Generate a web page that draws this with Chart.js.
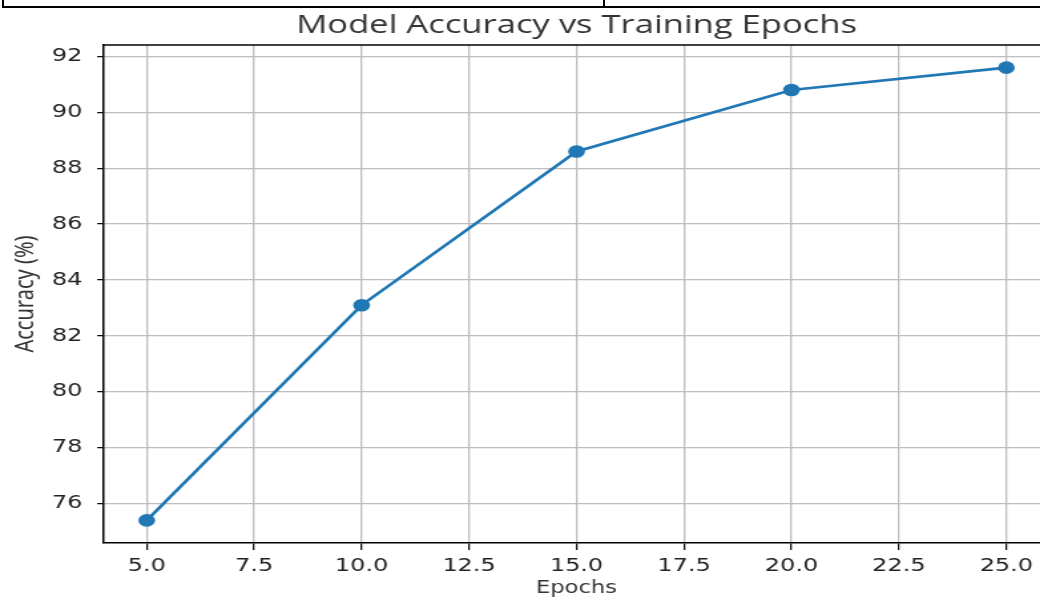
<!DOCTYPE html>
<html>
<head>
<meta charset="utf-8">
<script src="https://cdn.jsdelivr.net/npm/chart.js@4.4.1/dist/chart.umd.min.js"></script>
<style>
    html, body { margin: 0; padding: 0; background: #fff; overflow: hidden; }
    #page { position: relative; width: 1040px; height: 601px; overflow: hidden; }
    /* the source picture is stretched sideways, so is the chart */
    #wrap { position: absolute; left: 0; top: 0; width: 789px; height: 601px;
            transform: scaleX(1.33); transform-origin: 0 0; }
    .rule { position: absolute; background: #000; }
</style>
</head>
<body>
<div id="page">
    <div id="wrap"><canvas id="accChart" width="789" height="601"></canvas></div>
    <!-- table borders cut off at the top of the screenshot -->
    <div class="rule" style="left:2px; top:6px; width:1038px; height:2px;"></div>
    <div class="rule" style="left:2px; top:0; width:2px; height:8px;"></div>
    <div class="rule" style="left:603px; top:0; width:2px; height:8px;"></div>
</div>
<script>
// Data
const epochs = [5, 10, 15, 20, 25];
const accuracy = [75.4, 83.1, 88.6, 90.8, 91.6];
const xTicks = [5, 7.5, 10, 12.5, 15, 17.5, 20, 22.5, 25];
const yTicks = [76, 78, 80, 82, 84, 86, 88, 90, 92];

// matplotlib style 5% margins
function padRange(vals) {
    const lo = Math.min(...vals), hi = Math.max(...vals);
    const m = (hi - lo) * 0.05;
    return [lo - m, hi + m];
}
const [xMin, xMax] = padRange(epochs);
const [yMin, yMax] = padRange(accuracy);

const tickFont = { family: "'DejaVu Sans', sans-serif", size: 18 };

// top edge of the axes box
const frameTop = {
    id: 'frameTop',
    beforeDatasetsDraw(chart) {
        const { ctx, chartArea: { left, right, top } } = chart;
        ctx.save();
        ctx.strokeStyle = '#000';
        ctx.lineWidth = 1.5;
        ctx.beginPath();
        ctx.moveTo(left, top);
        ctx.lineTo(right, top);
        ctx.stroke();
        ctx.restore();
    }
};

new Chart(document.getElementById('accChart'), {
    type: 'line',
    plugins: [frameTop],
    data: {
        datasets: [{
            label: 'Accuracy',
            data: epochs.map((e, i) => ({ x: e, y: accuracy[i] })),
            borderColor: '#1f77b4',
            backgroundColor: '#1f77b4',
            borderWidth: 2.6,
            pointRadius: 6.3,
            pointHoverRadius: 6.3,
            pointBorderWidth: 0,
            tension: 0
        }]
    },
    options: {
        responsive: false,
        animation: false,
        devicePixelRatio: 1,
        layout: { padding: 0, autoPadding: false },
        plugins: {
            legend: { display: false },
            tooltip: { enabled: false },
            title: {
                display: true,
                fullSize: false,
                text: 'Model Accuracy vs Training Epochs',
                color: '#333',
                font: { family: "'Open Sans', sans-serif", size: 26, weight: 'normal', lineHeight: 1.2 },
                padding: { top: 9.5, bottom: 4.3 }
            }
        },
        scales: {
            x: {
                type: 'linear',
                min: xMin,
                max: xMax,
                afterBuildTicks: (s) => { s.ticks = xTicks.map(v => ({ value: v })); },
                afterFit: (s) => { s.height = 58; },
                ticks: {
                    color: '#222',
                    font: tickFont,
                    padding: 6,
                    maxRotation: 0,
                    autoSkip: false,
                    callback: (v) => Number(v).toFixed(1)
                },
                grid: { color: '#bdbdbd', lineWidth: 1.3, tickLength: 7, tickColor: '#000', tickWidth: 1.2 },
                border: { display: true, color: '#000', width: 1.5 },
                title: {
                    display: true,
                    text: 'Epochs',
                    color: '#333',
                    font: { family: "'DejaVu Sans', sans-serif", size: 17 },
                    padding: { top: 0, bottom: 2 }
                }
            },
            y: {
                type: 'linear',
                min: yMin,
                max: yMax,
                afterBuildTicks: (s) => { s.ticks = yTicks.map(v => ({ value: v })); },
                afterFit: (s) => { s.width = 78; },
                ticks: {
                    color: '#222',
                    font: tickFont,
                    padding: 11,
                    autoSkip: false,
                    callback: (v) => String(v)
                },
                grid: { color: '#bdbdbd', lineWidth: 1.3, tickLength: 5, tickColor: '#000', tickWidth: 1.2 },
                border: { display: true, color: '#000', width: 1.5 },
                title: {
                    display: true,
                    text: 'Accuracy (%)',
                    color: '#333',
                    font: { family: "'Noto Sans', sans-serif", size: 20 },
                    padding: { top: 7, bottom: 0 }
                }
            }
        }
    }
});
</script>
</body>
</html>
